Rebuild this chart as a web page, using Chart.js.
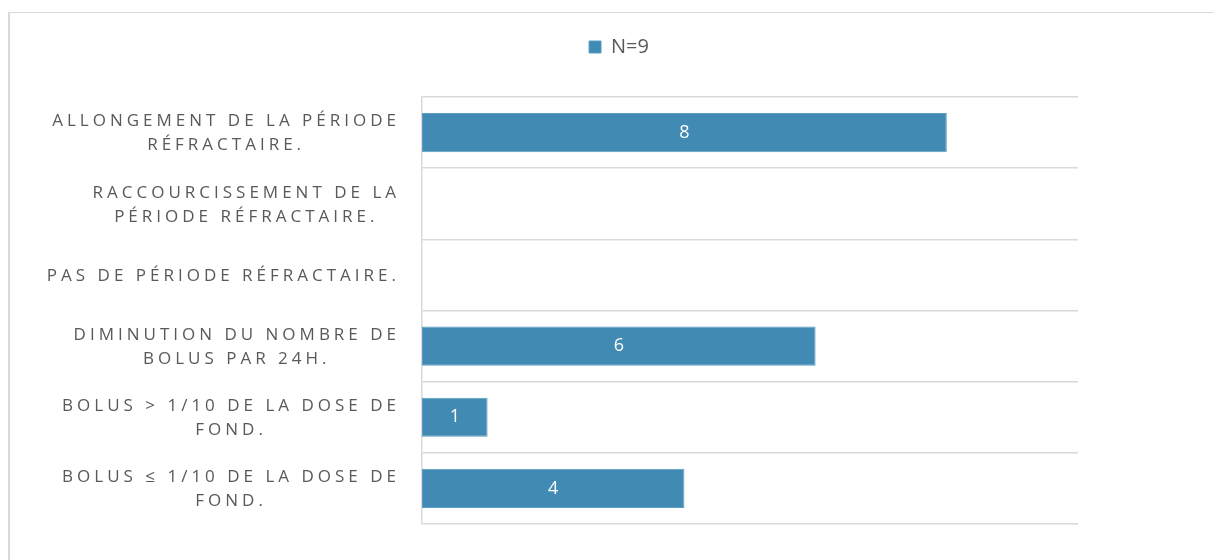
<!DOCTYPE html>
<html>
<head>
<meta charset="utf-8">
<script src="https://cdn.jsdelivr.net/npm/chart.js@4"></script>
<style>
  html, body { margin: 0; padding: 0; background: #fff; }
  #frame { position: absolute; left: 8px; top: 12px; width: 1300px; height: 700px;
    border-top: 1px solid #d9d9d9; border-left: 2px solid #d9d9d9; }
  #wrap { position: absolute; left: 0; top: 0; width: 1214px; height: 560px; }
</style>
</head>
<body>
<div id="frame"></div>
<div id="wrap"><canvas id="chart"></canvas></div>
<script>
const categories = [
  ["ALLONGEMENT DE LA PÉRIODE", "RÉFRACTAIRE."],
  ["RACCOURCISSEMENT DE LA", "PÉRIODE RÉFRACTAIRE."],
  "PAS DE PÉRIODE RÉFRACTAIRE.",
  ["DIMINUTION DU NOMBRE DE", "BOLUS PAR 24H."],
  ["BOLUS > 1/10 DE LA DOSE DE", "FOND."],
  ["BOLUS ≤ 1/10 DE LA DOSE DE", "FOND."],
];
const values = [8, 0, 0, 6, 1, 4];
const seriesName = "N=9";

const barColor = "#418ab3";
const textColor = "#595959";
const spacing = 4;

// right-aligned label blocks with centred lines, letter spaced like the original
const spacedLabels = {
  id: "spacedLabels",
  beforeDraw(chart) {
    const s = chart.scales.y;
    if (s._spaced) return;
    s._computeLabelArea = () => undefined; // labels reach past the padded box
    const origItems = s.getLabelItems.bind(s);
    s.getLabelItems = function (area) {
      const items = origItems(area);
      const ctx = chart.ctx;
      items.forEach((it) => {
        const lines = Array.isArray(it.label) ? it.label : [it.label];
        ctx.save();
        ctx.letterSpacing = "0px";
        ctx.font = it.font.string;
        const w = Math.max(...lines.map((l) => ctx.measureText(l).width + spacing * (l.length - 1)));
        ctx.restore();
        it.options.textAlign = "center";
        it.options.translation = [s.right - 26 - w / 2 + spacing / 2, it.options.translation[1] + 1];
      });
      return items;
    };
    const origDraw = s.drawLabels.bind(s);
    s.drawLabels = function (area) {
      chart.ctx.save();
      chart.ctx.letterSpacing = spacing + "px";
      origDraw(area);
      chart.ctx.restore();
    };
    s._spaced = true;
  },
};

const barValues = {
  id: "barValues",
  afterDatasetsDraw(chart) {
    const ctx = chart.ctx;
    const meta = chart.getDatasetMeta(0);
    ctx.save();
    ctx.font = "18px 'Open Sans'";
    ctx.fillStyle = "#ffffff";
    ctx.textAlign = "center";
    ctx.textBaseline = "middle";
    meta.data.forEach((bar, i) => {
      if (!values[i]) return;
      ctx.fillText(String(values[i]), (bar.x + bar.base) / 2, bar.y);
    });
    ctx.restore();
  },
};

new Chart(document.getElementById("chart"), {
  type: "bar",
  data: {
    labels: categories,
    datasets: [
      {
        label: seriesName,
        data: values,
        backgroundColor: barColor,
        borderColor: "#5b9ec4",
        borderWidth: 1,
        borderSkipped: false,
        categoryPercentage: 1,
        barPercentage: 0.55,
      },
    ],
  },
  options: {
    indexAxis: "y",
    responsive: true,
    maintainAspectRatio: false,
    animation: false,
    layout: { padding: { top: 27, right: 136, bottom: 0, left: 160 } },
    plugins: {
      legend: {
        position: "top",
        labels: {
          boxWidth: 12,
          boxHeight: 12,
          padding: 10,
          color: textColor,
          font: { family: "'Open Sans'", size: 20 },
        },
      },
      // empty title used as a spacer between legend and plot
      title: {
        display: true,
        text: "",
        weight: 0,
        font: { size: 10, lineHeight: 1 },
        padding: { top: 0, bottom: 20 },
      },
      tooltip: { enabled: false },
    },
    scales: {
      x: {
        min: 0,
        max: 10,
        display: false,
      },
      y: {
        afterFit(scale) {
          scale.width = 262;
          scale.paddingTop = 0;
          scale.paddingBottom = 36;
        },
        ticks: {
          color: textColor,
          font: { family: "'Open Sans'", size: 17, lineHeight: 1.41 },
          padding: 23,
        },
        grid: {
          color: "#d9d9d9",
          lineWidth: 1.5,
          drawTicks: false,
        },
        border: { color: "#d9d9d9", width: 1.5 },
      },
    },
  },
  plugins: [spacedLabels, barValues],
});
</script>
</body>
</html>
